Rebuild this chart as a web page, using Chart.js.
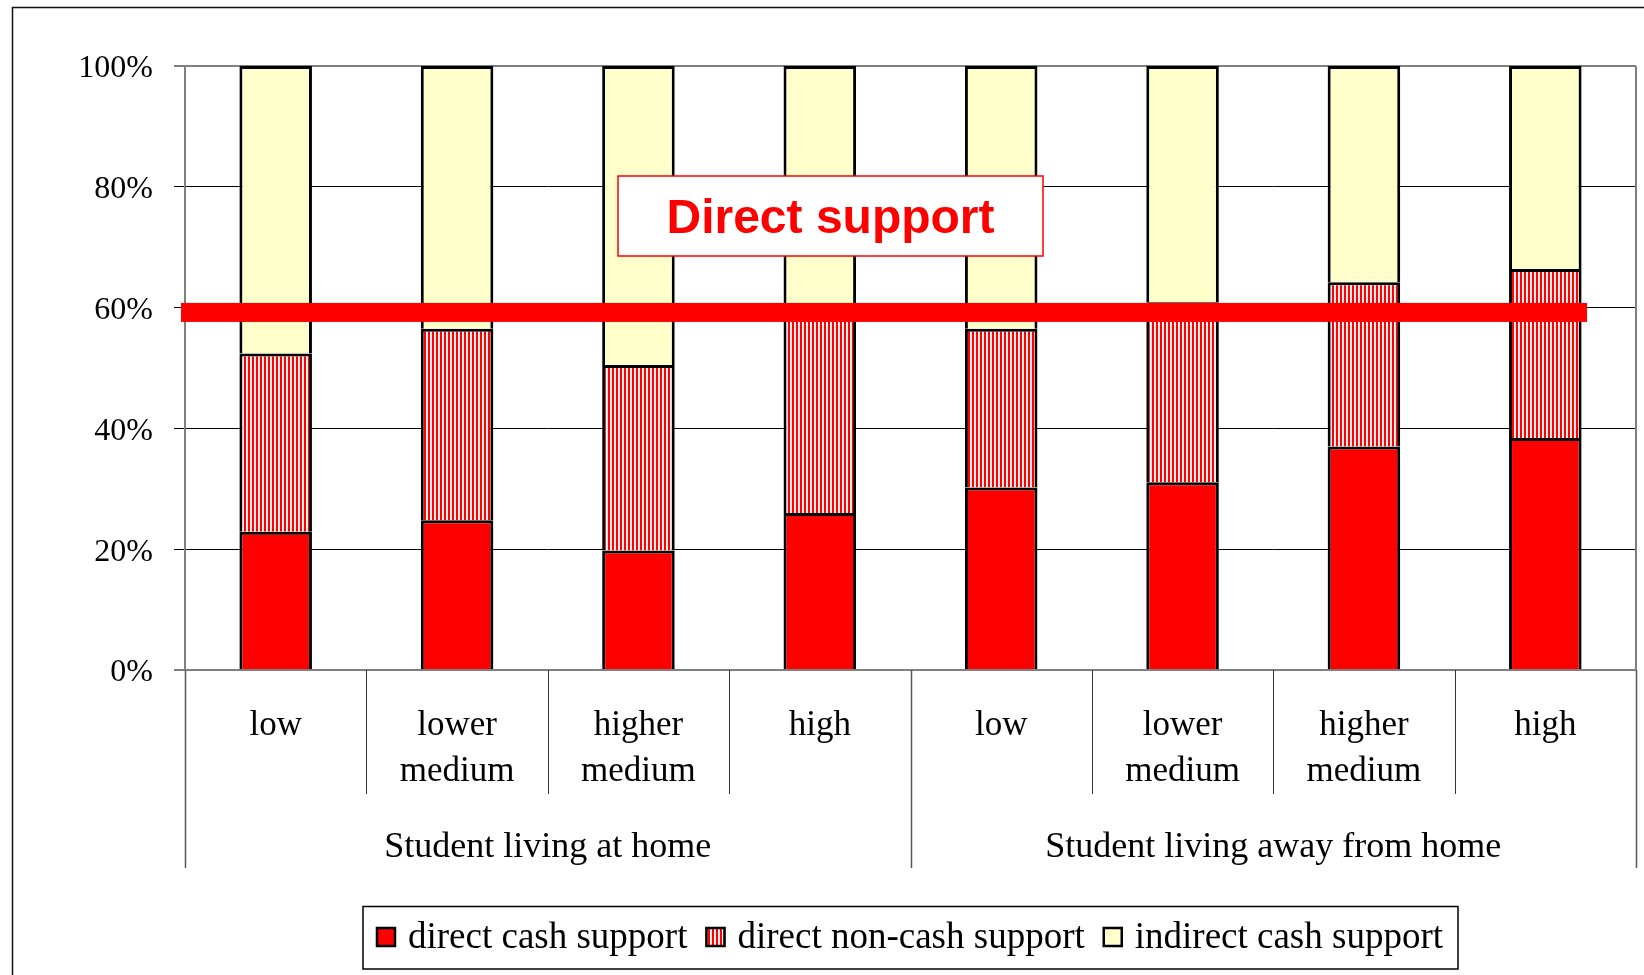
<!DOCTYPE html>
<html>
<head>
<meta charset="utf-8">
<title>Direct support</title>
<script src="https://cdn.jsdelivr.net/npm/chart.js@4.4.1/dist/chart.umd.min.js"></script>
<style>
  html, body { margin: 0; padding: 0; background: #fff; }
  #wrap { position: relative; width: 1644px; height: 975px; }
</style>
</head>
<body>
<div id="wrap"><canvas id="chart"></canvas></div>
<script>
const categories = [['low'], ['lower', 'medium'], ['higher', 'medium'], ['high'],
                    ['low'], ['lower', 'medium'], ['higher', 'medium'], ['high']];
const groups = ['Student living at home', 'Student living away from home'];
const groupSizes = [4, 4];
const seriesNames = ['direct cash support', 'direct non-cash support', 'indirect cash support'];
const directCash = [22.9, 24.8, 19.8, 26.0, 30.2, 31.1, 37.0, 38.4];
const directNonCash = [29.5, 31.7, 30.7, 33.0, 26.3, 29.8, 27.2, 28.0];
const indirectCash = [47.6, 43.5, 49.5, 41.0, 43.5, 39.1, 35.8, 33.6];
const yTicks = [0, 20, 40, 60, 80, 100];
const directSupportLevel = 59.2;
const annotationText = 'Direct support';

const SERIF = "'Liberation Serif', 'Times New Roman', serif";
Chart.defaults.font.family = SERIF;
Chart.defaults.color = '#000';

const canvas = document.getElementById('chart');

// vertical red/white stripes for the non-cash series
function stripes() {
  const c = document.createElement('canvas');
  c.width = 4; c.height = 4;
  const g = c.getContext('2d');
  g.fillStyle = '#fff'; g.fillRect(0, 0, 4, 4);
  g.fillStyle = '#ff0000'; g.fillRect(0, 0, 2, 4);
  g.fillStyle = '#ffe0e0'; g.fillRect(3, 0, 1, 4);
  return canvas.getContext('2d').createPattern(c, 'repeat');
}

const decor = {
  id: 'decor',
  beforeDraw(chart) {
    const ctx = chart.ctx;
    ctx.save();
    ctx.strokeStyle = '#111';
    ctx.lineWidth = 1.5;
    ctx.beginPath();
    ctx.moveTo(12.5, 975); ctx.lineTo(12.5, 7.5); ctx.lineTo(1644, 7.5);
    ctx.stroke();
    ctx.restore();
  },
  afterDatasetsDraw(chart) {
    const ctx = chart.ctx, y = chart.scales.y;
    const a = chart.chartArea;
    ctx.save();
    // right border of plot area
    ctx.strokeStyle = '#808080';
    ctx.lineWidth = 2;
    ctx.beginPath(); ctx.moveTo(a.right, a.top); ctx.lineTo(a.right, a.bottom); ctx.stroke();
    // thick red level line
    const yp = y.getPixelForValue(directSupportLevel);
    ctx.fillStyle = '#ff0000';
    ctx.fillRect(a.left - 4, yp - 9.5, (a.right - 49) - (a.left - 4), 19);
    // annotation box
    const bx = a.left + 433, by = a.top + 110, bw = 425, bh = 80;
    ctx.fillStyle = '#fff';
    ctx.fillRect(bx, by, bw, bh);
    ctx.strokeStyle = '#ff0000';
    ctx.lineWidth = 1.5;
    ctx.strokeRect(bx, by, bw, bh);
    ctx.fillStyle = '#ff0000';
    ctx.font = "bold 48px 'Liberation Sans', Arial, sans-serif";
    ctx.textAlign = 'center';
    ctx.textBaseline = 'alphabetic';
    ctx.fillText(annotationText, bx + bw / 2, by + 57);
    ctx.restore();
  },
  afterDraw(chart) {
    const ctx = chart.ctx;
    const a = chart.chartArea;
    const w = (a.right - a.left) / categories.length;
    ctx.save();
    // category separators below the axis
    const bounds = [0];
    groupSizes.forEach(n => bounds.push(bounds[bounds.length - 1] + n));
    for (let i = 0; i <= categories.length; i++) {
      const px = Math.round(a.left + i * w) + 0.5;
      const isGroup = bounds.includes(i);
      ctx.strokeStyle = isGroup ? '#555' : '#333';
      ctx.lineWidth = isGroup ? 1.5 : 1;
      ctx.beginPath();
      ctx.moveTo(px, a.bottom);
      ctx.lineTo(px, isGroup ? 868 : 794);
      ctx.stroke();
    }
    // group labels
    ctx.fillStyle = '#000';
    ctx.font = '36px ' + SERIF;
    ctx.textAlign = 'center';
    ctx.textBaseline = 'alphabetic';
    groups.forEach((g, i) => {
      const cx = a.left + (bounds[i] + groupSizes[i] / 2) * w;
      ctx.fillText(g, cx, 857);
    });
    // legend
    ctx.font = '37px ' + SERIF;
    const widths = seriesNames.map(s => ctx.measureText(s).width);
    const total = 13 + widths.reduce((s, v) => s + v, 0) + seriesNames.length * 32 + (seriesNames.length - 1) * 18 + 15;
    const left = (a.left + a.right) / 2 - total / 2;
    ctx.strokeStyle = '#000';
    ctx.lineWidth = 1.5;
    ctx.strokeRect(left, 906.5, total, 62.5);
    let lx = left + 13;
    ctx.textAlign = 'left';
    chart.data.datasets.forEach((ds, i) => {
      ctx.fillStyle = ds.backgroundColor;
      ctx.fillRect(lx, 927, 20, 20);
      ctx.strokeStyle = '#000';
      ctx.lineWidth = 2.5;
      ctx.strokeRect(lx + 1, 928, 18, 18);
      ctx.fillStyle = '#000';
      ctx.fillText(ds.label, lx + 32, 948);
      lx += 32 + widths[i] + 18;
    });
    ctx.restore();
  }
};

new Chart(canvas, {
  type: 'bar',
  data: {
    labels: categories,
    datasets: [
      { label: seriesNames[0], data: directCash, backgroundColor: '#ff0000' },
      { label: seriesNames[1], data: directNonCash, backgroundColor: stripes() },
      { label: seriesNames[2], data: indirectCash, backgroundColor: '#ffffcc' }
    ]
  },
  options: {
    responsive: true,
    maintainAspectRatio: false,
    animation: false,
    layout: { padding: { top: 66, right: 8, left: 0, bottom: 0 } },
    plugins: { legend: { display: false }, tooltip: { enabled: false } },
    datasets: {
      bar: { categoryPercentage: 1, barPercentage: 0.4, borderColor: '#000', borderWidth: 3 }
    },
    scales: {
      x: {
        stacked: true,
        grid: { display: false, drawTicks: false },
        border: { display: true, color: '#808080', width: 2 },
        ticks: {
          font: { size: 35, lineHeight: 46 / 35 },
          color: '#000',
          padding: 33,
          maxRotation: 0,
          autoSkip: false
        },
        afterFit: s => { s.height = 305; }
      },
      y: {
        stacked: true,
        min: 0,
        max: 100,
        afterBuildTicks: s => { s.ticks = yTicks.map(v => ({ value: v })); },
        grid: {
          tickLength: 11,
          color: c => (c.tick && (c.tick.value === 0 || c.tick.value === 100)) ? '#808080' : '#000',
          lineWidth: c => (c.tick && (c.tick.value === 0 || c.tick.value === 100)) ? 2 : 1
        },
        border: { display: true, color: '#808080', width: 2 },
        ticks: {
          font: { size: 32 },
          color: '#000',
          padding: 21,
          labelOffset: 3,
          callback: v => v + '%'
        },
        afterFit: s => { s.width = 185; }
      }
    }
  },
  plugins: [decor]
});
</script>
</body>
</html>
